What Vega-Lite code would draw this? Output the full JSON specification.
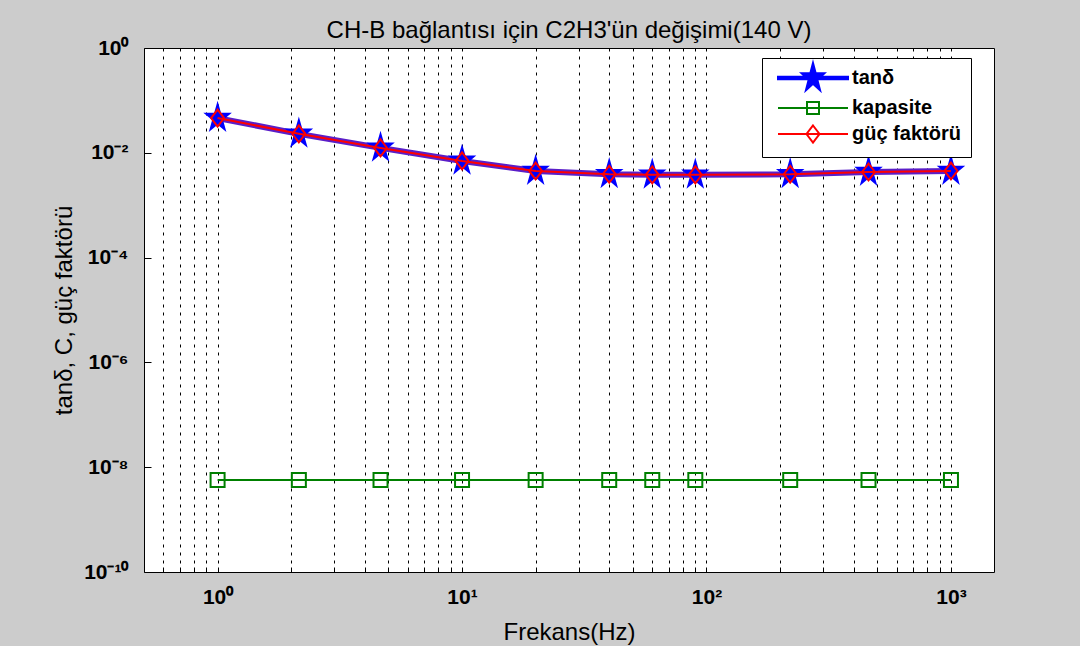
{
  "$schema": "https://vega.github.io/schema/vega-lite/v6.json",
  "width": 850,
  "height": 524,
  "autosize": "none",
  "padding": {"left": 144, "top": 48, "right": 86, "bottom": 74},
  "background": "#cccccc",
  "title": {"text": "CH-B bağlantısı için C2H3'ün değişimi(140 V)", "fontSize": 24, "font": "Liberation Sans", "fontWeight": "normal", "color": "#000000", "anchor": "middle", "frame": "group", "offset": 9, "baseline": "alphabetic", "dy": 34},
  "config": {"view": {"fill": "#ffffff", "stroke": "#000000", "strokeWidth": 1}, "font": "Liberation Sans"},
  "data": {"values": [
    {"f": 1, "series": "tanδ", "v": 0.046},
    {"f": 2.15, "series": "tanδ", "v": 0.023},
    {"f": 4.64, "series": "tanδ", "v": 0.0124},
    {"f": 10, "series": "tanδ", "v": 0.0070},
    {"f": 20, "series": "tanδ", "v": 0.0045},
    {"f": 40, "series": "tanδ", "v": 0.0039},
    {"f": 60, "series": "tanδ", "v": 0.0038},
    {"f": 90, "series": "tanδ", "v": 0.0038},
    {"f": 220, "series": "tanδ", "v": 0.0039},
    {"f": 460, "series": "tanδ", "v": 0.0043},
    {"f": 1000, "series": "tanδ", "v": 0.0045},
    {"f": 1, "series": "kapasite", "v": 5.7e-9},
    {"f": 2.15, "series": "kapasite", "v": 5.7e-9},
    {"f": 4.64, "series": "kapasite", "v": 5.7e-9},
    {"f": 10, "series": "kapasite", "v": 5.7e-9},
    {"f": 20, "series": "kapasite", "v": 5.7e-9},
    {"f": 40, "series": "kapasite", "v": 5.7e-9},
    {"f": 60, "series": "kapasite", "v": 5.7e-9},
    {"f": 90, "series": "kapasite", "v": 5.7e-9},
    {"f": 220, "series": "kapasite", "v": 5.7e-9},
    {"f": 460, "series": "kapasite", "v": 5.7e-9},
    {"f": 1000, "series": "kapasite", "v": 5.7e-9},
    {"f": 1, "series": "güç faktörü", "v": 0.046},
    {"f": 2.15, "series": "güç faktörü", "v": 0.023},
    {"f": 4.64, "series": "güç faktörü", "v": 0.0124},
    {"f": 10, "series": "güç faktörü", "v": 0.0070},
    {"f": 20, "series": "güç faktörü", "v": 0.0045},
    {"f": 40, "series": "güç faktörü", "v": 0.0039},
    {"f": 60, "series": "güç faktörü", "v": 0.0038},
    {"f": 90, "series": "güç faktörü", "v": 0.0038},
    {"f": 220, "series": "güç faktörü", "v": 0.0039},
    {"f": 460, "series": "güç faktörü", "v": 0.0043},
    {"f": 1000, "series": "güç faktörü", "v": 0.0045}
  ]},
  "encoding": {
    "x": {"field": "f", "type": "quantitative",
      "scale": {"type": "log", "domain": [0.5, 1500], "nice": false},
      "axis": {"title": "Frekans(Hz)", "titleFontSize": 24, "titleFontWeight": "normal", "titleColor": "#000000", "titleFont": "Liberation Sans", "titleX": 425, "titleY": 60, "titleBaseline": "middle", "titleAlign": "center",
        "values": [0.6, 0.7, 0.8, 0.9, 1, 2, 3, 4, 5, 6, 7, 8, 9, 10, 20, 30, 40, 50, 60, 70, 80, 90, 100, 200, 300, 400, 500, 600, 700, 800, 900, 1000],
        "grid": true, "gridDash": [3, 5], "gridColor": "#000000", "gridOpacity": 1, "gridWidth": 1,
        "domain": false, "tickSize": -5, "tickColor": "#000000", "tickWidth": 1,
        "labelExpr": "datum.value == 1 ? '10⁰' : datum.value == 10 ? '10¹' : datum.value == 100 ? '10²' : datum.value == 1000 ? '10³' : ''",
        "labelFontSize": 21, "labelFontWeight": "bold", "labelColor": "#000000", "labelFont": "Liberation Sans", "labelPadding": 19, "labelFlush": false, "labelOverlap": false}},
    "y": {"field": "v", "type": "quantitative",
      "scale": {"type": "log", "domain": [1e-10, 1], "nice": false},
      "axis": {"title": "tanδ, C, güç faktörü", "titleFontSize": 24, "titleFontWeight": "normal", "titleColor": "#000000", "titleFont": "Liberation Sans", "titleX": -80, "titleY": 262, "titleBaseline": "middle", "titleAlign": "center", "titleAngle": -90,
        "values": [1e-10, 1e-8, 1e-6, 1e-4, 1e-2, 1],
        "grid": false, "domain": false, "tickSize": -7, "tickColor": "#000000", "tickWidth": 1,
        "labelExpr": "datum.value >= 0.5 ? '10⁰' : datum.value >= 0.005 ? '10⁻²' : datum.value >= 5e-5 ? '10⁻⁴' : datum.value >= 5e-7 ? '10⁻⁶' : datum.value >= 5e-9 ? '10⁻⁸' : '10⁻¹⁰'",
        "labelFontSize": 21, "labelFontWeight": "bold", "labelColor": "#000000", "labelFont": "Liberation Sans", "labelPadding": 23, "labelFlush": false, "labelOverlap": false}}
  },
  "layer": [
    {"transform": [{"filter": "datum.series === 'tanδ'"}],
     "mark": {"type": "line", "color": "#5a1ec8", "strokeWidth": 6}},
    {"transform": [{"filter": "datum.series === 'tanδ'"}],
     "mark": {"type": "point", "shape": "M0,-1.15L0.2245,-0.355L0.951,-0.355L0.363,0.136L0.588,0.93L0,0.439L-0.588,0.93L-0.363,0.136L-0.951,-0.355L-0.2245,-0.355Z", "size": 900, "filled": true, "color": "#0000ff", "opacity": 1, "strokeWidth": 1}},
    {"transform": [{"filter": "datum.series === 'kapasite'"}],
     "mark": {"type": "line", "color": "#008000", "strokeWidth": 2}},
    {"transform": [{"filter": "datum.series === 'kapasite'"}],
     "mark": {"type": "point", "shape": "square", "size": 196, "filled": false, "color": "#008000", "opacity": 1, "strokeWidth": 2}},
    {"transform": [{"filter": "datum.series === 'güç faktörü'"}],
     "mark": {"type": "line", "color": "#ff0000", "strokeWidth": 2}},
    {"transform": [{"filter": "datum.series === 'güç faktörü'"}],
     "mark": {"type": "point", "shape": "M0,-1.3L1,0L0,1.3L-1,0Z", "size": 169, "filled": false, "color": "#ff0000", "opacity": 1, "strokeWidth": 2}},
    {"mark": {"type": "point", "opacity": 0, "size": 100, "strokeWidth": 2},
     "encoding": {
       "fill": {"field": "series", "type": "nominal",
         "scale": {"domain": ["tanδ", "kapasite", "güç faktörü"], "range": ["#0000ff", "transparent", "transparent"]},
         "legend": {"title": null, "orient": "none", "legendX": 618, "legendY": 10, "padding": 10,
           "fillColor": "#ffffff", "strokeColor": "#000000", "cornerRadius": 0,
           "labelFontSize": 20, "labelFontWeight": "bold", "labelFont": "Liberation Sans", "labelColor": "#000000", "labelExpr": "datum.label + '\u00a0\u00a0\u00a0'",
           "labelOffset": 29, "symbolOffset": 31, "rowPadding": 3, "symbolSize": 100, "symbolOpacity": 1, "symbolStrokeWidth": 2, "labelLimit": 300}},
       "stroke": {"field": "series", "type": "nominal",
         "scale": {"domain": ["tanδ", "kapasite", "güç faktörü"], "range": ["#0000ff", "#008000", "#ff0000"]},
         "legend": {"title": null, "orient": "none", "legendX": 618, "legendY": 10, "padding": 10,
           "fillColor": "#ffffff", "strokeColor": "#000000", "cornerRadius": 0,
           "labelFontSize": 20, "labelFontWeight": "bold", "labelFont": "Liberation Sans", "labelColor": "#000000", "labelExpr": "datum.label + '\u00a0\u00a0\u00a0'",
           "labelOffset": 29, "symbolOffset": 31, "rowPadding": 3, "symbolSize": 100, "symbolOpacity": 1, "symbolStrokeWidth": 2, "labelLimit": 300}},
       "shape": {"field": "series", "type": "nominal",
         "scale": {"domain": ["tanδ", "kapasite", "güç faktörü"], "range": [
           "M-7,-0.25L7,-0.25L7,0.25L-7,0.25ZM0,-3L0.539,-0.927L2.282,-0.927L0.871,0.354L1.411,2.427L0,1.146L-1.411,2.427L-0.871,0.354L-2.282,-0.927L-0.539,-0.927Z",
           "M-7,0L7,0M-1.2,-1.2L1.2,-1.2L1.2,1.2L-1.2,1.2Z",
           "M-7,0L7,0M0,-1.7L1.3,0L0,1.7L-1.3,0Z"]},
         "legend": {"title": null, "orient": "none", "legendX": 618, "legendY": 10, "padding": 10,
           "fillColor": "#ffffff", "strokeColor": "#000000", "cornerRadius": 0,
           "labelFontSize": 20, "labelFontWeight": "bold", "labelFont": "Liberation Sans", "labelColor": "#000000", "labelExpr": "datum.label + '\u00a0\u00a0\u00a0'",
           "labelOffset": 29, "symbolOffset": 31, "rowPadding": 3, "symbolSize": 100, "symbolOpacity": 1, "symbolStrokeWidth": 2, "labelLimit": 300}}
     }}
  ]
}
